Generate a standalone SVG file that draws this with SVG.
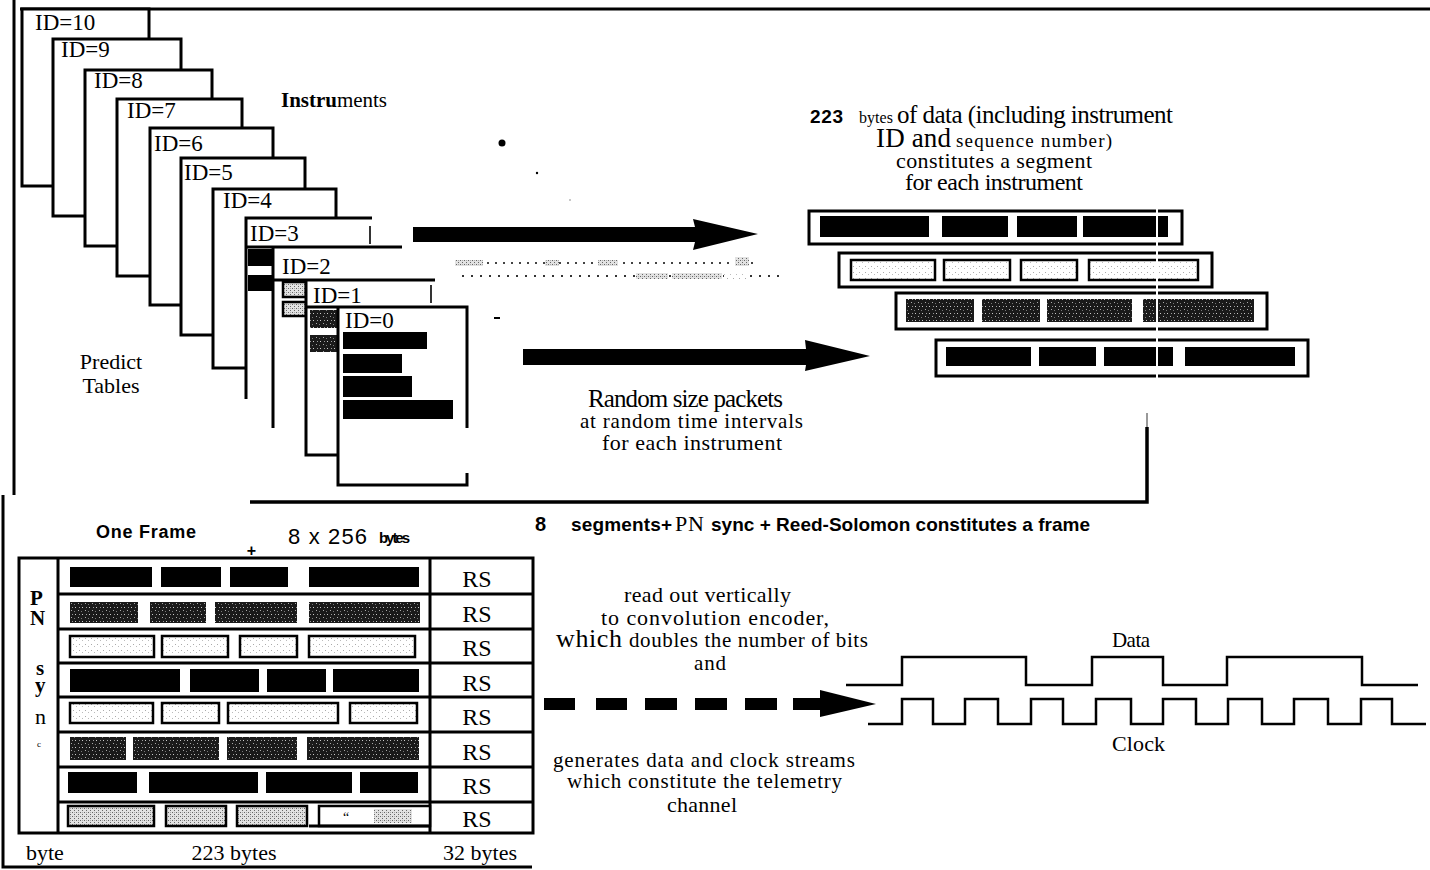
<svg xmlns="http://www.w3.org/2000/svg" width="1430" height="870" viewBox="0 0 1430 870">
<defs>
<style>
.serif{font-family:"Liberation Serif","Times New Roman",serif;fill:#000}
.sans{font-family:"Liberation Sans",Arial,sans-serif;fill:#000}
.b{font-weight:bold}
.card{fill:#fff;stroke:#000;stroke-width:3}
.cardbg{fill:#fff}
.edge{fill:none;stroke:#000;stroke-width:3}
.thin{fill:none;stroke:#000;stroke-width:1.6}
.blk{fill:#000}
.dk{fill:url(#pdk)}
.lt{fill:url(#plt);stroke:#000;stroke-width:2.5}
.md{fill:url(#pmd);stroke:#000;stroke-width:2.5}
.seg{fill:#fff;stroke:#000;stroke-width:3}
.line{fill:none;stroke:#000;stroke-width:3.5}
.wave{fill:none;stroke:#000;stroke-width:2.5}
.id{font-size:23px}
.rs{font-size:24px;text-anchor:middle}
.mid{text-anchor:middle}
</style>
<pattern id="pdk" width="7" height="7" patternUnits="userSpaceOnUse"><rect width="7" height="7" fill="#1a1a1a"/><rect x="1" y="1" width="1" height="1" fill="#aaa"/><rect x="4" y="2" width="1" height="1" fill="#777"/><rect x="2" y="5" width="1" height="1" fill="#999"/><rect x="5" y="5" width="1" height="1" fill="#ccc"/></pattern>
<pattern id="plt" width="6" height="6" patternUnits="userSpaceOnUse"><rect width="6" height="6" fill="#fff"/><rect x="1" y="2" width="1" height="1" fill="#aaa"/><rect x="4" y="4" width="1" height="1" fill="#bbb"/></pattern>
<pattern id="pmd" width="4" height="4" patternUnits="userSpaceOnUse"><rect width="4" height="4" fill="#e2e2e2"/><rect x="0" y="0" width="1" height="1" fill="#666"/><rect x="2" y="2" width="1" height="1" fill="#666"/><rect x="2" y="0" width="1" height="1" fill="#aaa"/></pattern>
</defs>
<rect width="1430" height="870" fill="#fff"/>

<g id="border">
<path class="edge" d="M14,0 V495" stroke-width="4"/>
<path class="edge" d="M3,495 V867 H532"/>
<path class="edge" d="M20,9 H1430" stroke-width="4.5"/>
</g>

<g id="card-10"><rect class="card" x="22" y="9" width="127" height="177"/><text class="serif id" x="35" y="30">ID=10</text></g>
<g id="card-9"><rect class="card" x="53" y="39" width="128" height="177"/><text class="serif id" x="61" y="57">ID=9</text></g>
<g id="card-8"><rect class="card" x="85" y="70" width="127" height="176"/><text class="serif id" x="94" y="88">ID=8</text></g>
<g id="card-7"><rect class="card" x="117" y="99" width="125" height="177"/><text class="serif id" x="127" y="118">ID=7</text></g>
<g id="card-6"><rect class="card" x="150" y="128" width="123" height="177"/><text class="serif id" x="154" y="151">ID=6</text></g>
<g id="card-5"><rect class="card" x="181" y="158" width="124" height="177"/><text class="serif id" x="184" y="180">ID=5</text></g>
<g id="card-4"><rect class="card" x="213" y="189" width="123" height="179"/><text class="serif id" x="223" y="208">ID=4</text></g>
<g id="card-3">
<rect class="cardbg" x="246" y="218" width="126" height="181"/>
<path class="edge" d="M246,399 V218 H372"/>
<path class="thin" d="M370,226 V244"/>
<text class="serif id" x="250" y="241">ID=3</text>
<rect class="blk" x="248" y="249" width="25" height="17"/>
<rect class="blk" x="248" y="275" width="25" height="16"/>
</g>
<g id="card-2">
<rect class="cardbg" x="273" y="247" width="129" height="181"/>
<path class="edge" d="M246,247 H402 M273,247 V428"/>
<text class="serif id" x="282" y="274">ID=2</text>
<rect class="md" x="283" y="282" width="23" height="15"/>
<rect class="md" x="283" y="302" width="23" height="14"/>
</g>
<g id="card-1">
<rect class="cardbg" x="306" y="280" width="129" height="175"/>
<path class="edge" d="M273,280 H435 M306,280 V455 H338"/>
<path class="thin" d="M431,285 V303" stroke-width="2.2"/>
<text class="serif id" x="313" y="303">ID=1</text>
<rect class="dk" x="310" y="310" width="28" height="18"/>
<rect class="dk" x="310" y="335" width="28" height="17"/>
</g>
<g id="card-0">
<rect class="cardbg" x="338" y="307" width="129" height="178"/>
<path class="edge" d="M306,307 H467 V428 M338,307 V485 H467 V473"/>
<text class="serif id" x="345" y="328">ID=0</text>
<rect class="blk" x="343" y="332" width="84" height="17"/>
<rect class="blk" x="343" y="354" width="59" height="19"/>
<rect class="blk" x="343" y="376" width="69" height="21"/>
<rect class="blk" x="343" y="400" width="110" height="19"/>
</g>

<g id="labels-top">
<text class="serif" x="281" y="107" font-size="21" textLength="106"><tspan font-weight="bold">Instru</tspan>ments</text>
<text class="serif mid" x="111" y="369" font-size="22">Predict</text>
<text class="serif mid" x="111" y="393" font-size="22">Tables</text>
<circle cx="502" cy="143" r="3.5"/>
<circle cx="537" cy="173" r="1.2"/>
<circle cx="570" cy="200" r="0.7" fill="#666"/>
<path d="M494,318 H500" stroke="#000" stroke-width="2"/>
</g>

<g id="noise">
<line x1="455" y1="263" x2="755" y2="263" stroke="#444" stroke-width="2.2" stroke-dasharray="2 6"/>
<rect x="455" y="260" width="28" height="6" fill="url(#pmd)"/>
<rect x="545" y="260" width="14" height="6" fill="url(#pmd)"/>
<rect x="598" y="260" width="20" height="6" fill="url(#pmd)"/>
<rect x="735" y="257" width="14" height="9" fill="url(#pmd)"/>
<line x1="462" y1="276" x2="785" y2="276" stroke="#333" stroke-width="2.2" stroke-dasharray="2 7"/>
<rect x="636" y="273" width="32" height="6" fill="url(#pmd)"/>
<rect x="672" y="273" width="50" height="6" fill="url(#pmd)"/>
<rect x="724" y="273" width="22" height="6" fill="url(#plt)"/>
</g>

<g id="text-segment">
<text class="sans b" x="810" y="123" font-size="19" textLength="33">223</text>
<text class="serif" x="859" y="123" font-size="16" textLength="34">bytes</text>
<text class="serif" x="897" y="123" font-size="25" textLength="276">of data (including instrument</text>
<text class="serif" x="876" y="147" font-size="27" textLength="75">ID and</text>
<text class="serif" x="956" y="147" font-size="19" textLength="156">sequence number)</text>
<text class="serif" x="896" y="168" font-size="22" textLength="196">constitutes a segment</text>
<text class="serif" x="905" y="190" font-size="24" textLength="178">for each instrument</text>
</g>

<g id="segment-1">
<rect class="seg" x="809" y="211" width="373" height="33"/>
<rect class="blk" x="820" y="216" width="109" height="21"/>
<rect class="blk" x="942" y="216" width="66" height="21"/>
<rect class="blk" x="1017" y="216" width="60" height="21"/>
<rect class="blk" x="1083" y="216" width="85" height="21"/>
</g>
<g id="segment-2">
<rect class="seg" x="839" y="253" width="373" height="34"/>
<rect class="lt" x="851" y="260" width="84" height="20"/>
<rect class="lt" x="944" y="260" width="66" height="20"/>
<rect class="lt" x="1021" y="260" width="56" height="20"/>
<rect class="lt" x="1089" y="260" width="109" height="20"/>
</g>
<g id="segment-3">
<rect class="seg" x="896" y="293" width="371" height="36"/>
<rect class="dk" x="906" y="299" width="68" height="23"/>
<rect class="dk" x="982" y="299" width="58" height="23"/>
<rect class="dk" x="1047" y="299" width="85" height="23"/>
<rect class="dk" x="1143" y="299" width="111" height="23"/>
</g>
<g id="segment-4">
<rect class="seg" x="936" y="340" width="372" height="36"/>
<rect class="blk" x="946" y="347" width="85" height="19"/>
<rect class="blk" x="1039" y="347" width="57" height="19"/>
<rect class="blk" x="1104" y="347" width="69" height="19"/>
<rect class="blk" x="1185" y="347" width="110" height="19"/>
</g>
<line x1="1157" y1="208" x2="1157" y2="379" stroke="#fff" stroke-width="2"/>

<g id="text-packets">
<text class="serif" x="588" y="407" font-size="25" textLength="195">Random size packets</text>
<text class="serif" x="580" y="428" font-size="21" textLength="223">at random time intervals</text>
<text class="serif" x="602" y="450" font-size="22" textLength="180">for each instrument</text>
</g>

<g id="connectors">
<path class="blk" d="M413,227 H695 L693,219 L758,234 L693,250 L695,242 H413 Z"/>
<path class="blk" d="M523,349 H806 L805,340 L870,356 L805,371 L806,365 H523 Z"/>
<path d="M1147,413 V428" stroke="#777" stroke-width="1.5"/>
<path class="line" d="M1147,427 V502 H250"/>
<g class="blk">
<rect x="544" y="698" width="31" height="12"/>
<rect x="596" y="698" width="31" height="12"/>
<rect x="645" y="698" width="32" height="12"/>
<rect x="695" y="698" width="32" height="12"/>
<rect x="745" y="698" width="32" height="12"/>
<rect x="793" y="698" width="28" height="12"/>
<path d="M820,690 L876,704 L820,717 Z"/>
</g>
</g>

<g id="text-frame-caption">
<text class="sans b" x="535" y="531" font-size="20">8</text>
<text class="sans b" x="571" y="531" font-size="19" textLength="101">segments+</text>
<text class="serif" x="675" y="531" font-size="22" textLength="29">PN</text>
<text class="sans b" x="711" y="531" font-size="19" textLength="379">sync + Reed-Solomon constitutes a frame</text>
</g>

<g id="frame-title">
<text class="sans b" x="96" y="538" font-size="18" textLength="100">One Frame</text>
<text class="sans" x="288" y="544" font-size="22" textLength="79">8 x 256</text>
<text class="sans b" x="379" y="543" font-size="15" textLength="31">bytes</text>
<text class="sans b mid" x="251.5" y="556" font-size="16">+</text>
</g>

<g id="frame">
<rect x="19" y="558" width="514" height="275" fill="none" stroke="#000" stroke-width="3"/>
<path class="edge" d="M58,558 V833 M430,558 V833 M58,594 H533 M58,629 H533 M58,663 H533 M58,697 H533 M58,732 H533 M58,767 H533 M58,802 H533"/>
<g class="serif b" font-size="21">
<text x="30" y="605">P</text>
<text x="30" y="625">N</text>
<text x="36" y="675">s</text>
<text x="35" y="692">y</text>
</g>
<text class="serif" x="35" y="724" font-size="22">n</text>
<text class="serif" x="37" y="747" font-size="9">c</text>
<rect class="blk" x="70" y="567" width="82" height="20"/>
<rect class="blk" x="161" y="567" width="60" height="20"/>
<rect class="blk" x="230" y="567" width="58" height="20"/>
<rect class="blk" x="309" y="567" width="110" height="20"/>
<rect class="dk" x="70" y="602" width="68" height="21"/>
<rect class="dk" x="150" y="602" width="56" height="21"/>
<rect class="dk" x="215" y="602" width="82" height="21"/>
<rect class="dk" x="309" y="602" width="111" height="21"/>
<rect class="lt" x="70" y="636" width="84" height="21"/>
<rect class="lt" x="162" y="636" width="66" height="21"/>
<rect class="lt" x="240" y="636" width="57" height="21"/>
<rect class="lt" x="309" y="636" width="106" height="21"/>
<rect class="blk" x="70" y="669" width="110" height="23"/>
<rect class="blk" x="190" y="669" width="69" height="23"/>
<rect class="blk" x="267" y="669" width="59" height="23"/>
<rect class="blk" x="333" y="669" width="86" height="23"/>
<rect class="lt" x="70" y="703" width="83" height="20"/>
<rect class="lt" x="162" y="703" width="57" height="20"/>
<rect class="lt" x="228" y="703" width="110" height="20"/>
<rect class="lt" x="350" y="703" width="67" height="20"/>
<rect class="dk" x="70" y="737" width="56" height="23"/>
<rect class="dk" x="133" y="737" width="86" height="23"/>
<rect class="dk" x="227" y="737" width="70" height="23"/>
<rect class="dk" x="307" y="737" width="112" height="23"/>
<rect class="blk" x="68" y="772" width="69" height="21"/>
<rect class="blk" x="149" y="772" width="109" height="21"/>
<rect class="blk" x="266" y="772" width="86" height="21"/>
<rect class="blk" x="360" y="772" width="58" height="21"/>
<rect class="md" x="68" y="806" width="86" height="20"/>
<rect class="md" x="166" y="806" width="60" height="20"/>
<rect class="md" x="237" y="806" width="70" height="20"/>
<rect x="319" y="806" width="111" height="20" fill="#fff" stroke="#000" stroke-width="2.5"/>
<rect x="374" y="809" width="38" height="14" fill="url(#pmd)"/>
<path class="edge" d="M309,826 H430"/>
<text class="serif" x="343" y="822" font-size="14">“</text>
<g class="serif rs">
<text x="477" y="587">RS</text>
<text x="477" y="622">RS</text>
<text x="477" y="656">RS</text>
<text x="477" y="691">RS</text>
<text x="477" y="725">RS</text>
<text x="477" y="760">RS</text>
<text x="477" y="794">RS</text>
<text x="477" y="827">RS</text>
</g>
<text class="serif" x="26" y="860" font-size="22">byte</text>
<text class="serif mid" x="234" y="860" font-size="22">223 bytes</text>
<text class="serif mid" x="480" y="860" font-size="22">32 bytes</text>
</g>

<g id="text-encoder">
<text class="serif" x="624" y="602" font-size="22" textLength="167">read out vertically</text>
<text class="serif" x="601" y="625" font-size="22" textLength="228">to convolution encoder,</text>
<text class="serif" x="556" y="647" font-size="26" textLength="66">which</text>
<text class="serif" x="629" y="647" font-size="21" textLength="239">doubles the number of bits</text>
<text class="serif" x="694" y="670" font-size="21" textLength="32">and</text>
<text class="serif" x="553" y="767" font-size="21" textLength="302">generates data and clock streams</text>
<text class="serif" x="567" y="788" font-size="21" textLength="275">which constitute the telemetry</text>
<text class="serif" x="667" y="812" font-size="22" textLength="70">channel</text>
</g>

<g id="waveforms">
<path class="wave" d="M846,685 H902 V657 H1026 V685 H1092 V657 H1163 V685 H1227 V657 H1362 V685 H1418"/>
<path class="wave" d="M868,724 H902 V699 H933 V724 H965 V699 H998 V724 H1031 V699 H1063 V724 H1096 V699 H1131 V724 H1163 V699 H1196 V724 H1228 V699 H1262 V724 H1294 V699 H1328 V724 H1361 V699 H1392 V724 H1426"/>
<text class="serif" x="1112" y="647" font-size="21" textLength="38">Data</text>
<text class="serif" x="1112" y="751" font-size="22" textLength="53">Clock</text>
</g>
</svg>
